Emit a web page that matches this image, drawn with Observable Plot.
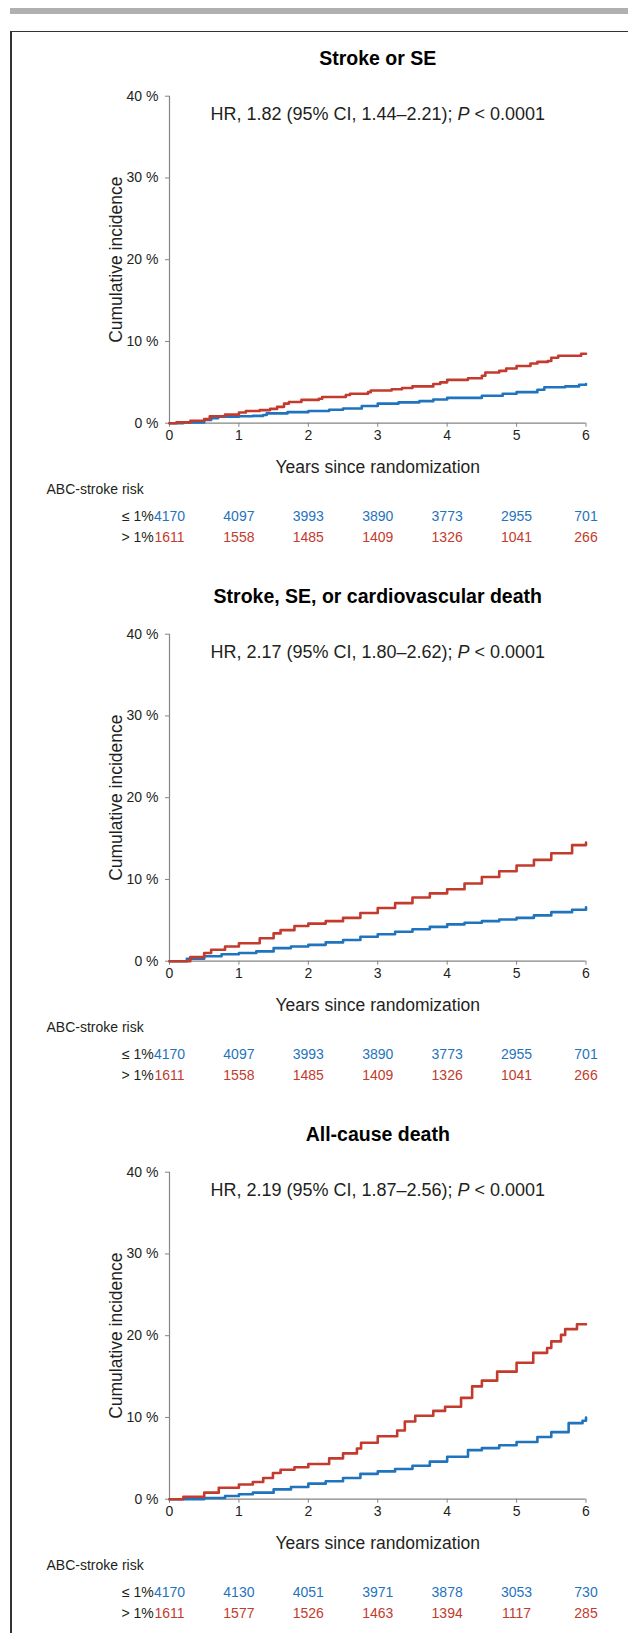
<!DOCTYPE html>
<html><head><meta charset="utf-8">
<script src="https://cdn.jsdelivr.net/npm/d3@7"></script>
<script src="https://cdn.jsdelivr.net/npm/@observablehq/plot@0.6"></script>
<style>
body{margin:0;background:#fff;}
#page{position:relative;width:628px;height:1633px;overflow:hidden;font-family:"Liberation Sans",Arial,sans-serif;}
#bar{position:absolute;left:10px;top:8px;width:618px;height:6px;background:#b0b0b0;}
#frame{position:absolute;left:10px;top:31px;width:660px;height:1700px;border-top:1.6px solid #333;border-left:2px solid #333;box-sizing:border-box;}
.panel{position:absolute;left:0;}
</style></head><body><div id="page"><div id="bar"></div><div id="frame"></div></div>
<script>
// ---- data ----
const years = [0, 1, 2, 3, 4, 5, 6];
const yTicks = [0, 10, 20, 30, 40];
const groupLabels = ["≤ 1%", "> 1%"];
const tableTitle = "ABC-stroke risk";
const xLabel = "Years since randomization";
const yLabel = "Cumulative incidence";

const titles = ["Stroke or SE", "Stroke, SE, or cardiovascular death", "All-cause death"];
const hrTexts = [
  "HR, 1.82 (95% CI, 1.44–2.21); P < 0.0001",
  "HR, 2.17 (95% CI, 1.80–2.62); P < 0.0001",
  "HR, 2.19 (95% CI, 1.87–2.56); P < 0.0001"
];

// cumulative incidence (%) : [years, %]
const strokeLow = [[0,0],[0.2,0.1],[0.5,0.4],[0.6,0.6],[0.7,0.8],[1.0,0.85],[1.2,0.9],[1.35,1.0],[1.4,1.2],[1.7,1.35],[2.0,1.5],[2.3,1.65],[2.5,1.8],[2.77,2.1],[3.0,2.4],[3.3,2.55],[3.6,2.7],[3.8,2.9],[4.0,3.1],[4.5,3.35],[4.8,3.6],[5.0,3.8],[5.3,4.1],[5.4,4.4],[5.7,4.5],[5.9,4.7],[6.0,4.8]];
const strokeHigh = [[0,0],[0.1,0.1],[0.3,0.3],[0.5,0.5],[0.58,0.85],[0.8,1.05],[1.0,1.3],[1.1,1.5],[1.3,1.6],[1.45,1.75],[1.55,2.0],[1.65,2.4],[1.72,2.6],[1.9,2.85],[2.15,3.0],[2.2,3.2],[2.54,3.45],[2.6,3.6],[2.86,3.8],[2.9,4.0],[3.2,4.15],[3.35,4.3],[3.5,4.5],[3.8,4.8],[3.9,5.0],[4.0,5.3],[4.3,5.5],[4.5,5.8],[4.55,6.2],[4.75,6.4],[4.85,6.7],[5.0,7.0],[5.2,7.3],[5.3,7.5],[5.45,7.6],[5.5,8.0],[5.6,8.25],[5.93,8.5],[6.0,8.5]];
const cvLow = [[0,0],[0.25,0.3],[0.5,0.6],[0.75,0.85],[1.0,1.0],[1.25,1.2],[1.5,1.6],[1.75,1.8],[2.0,2.0],[2.25,2.3],[2.5,2.6],[2.75,3.0],[3.0,3.3],[3.25,3.6],[3.5,3.9],[3.75,4.2],[4.0,4.5],[4.25,4.7],[4.5,4.9],[4.75,5.1],[5.0,5.3],[5.25,5.6],[5.5,6.0],[5.8,6.3],[6.0,6.6]];
const cvHigh = [[0,0],[0.3,0.5],[0.5,1.0],[0.6,1.4],[0.8,1.8],[1.0,2.2],[1.3,2.8],[1.5,3.4],[1.6,3.8],[1.8,4.3],[2.0,4.6],[2.25,4.9],[2.5,5.3],[2.75,5.9],[3.0,6.5],[3.25,7.1],[3.5,7.8],[3.75,8.3],[4.0,8.8],[4.25,9.5],[4.5,10.3],[4.75,11.0],[5.0,11.7],[5.25,12.4],[5.5,13.2],[5.8,14.2],[6.0,14.5]];
const deathLow = [[0,0],[0.5,0.15],[0.8,0.4],[1.0,0.6],[1.2,0.8],[1.5,1.2],[1.75,1.5],[2.0,1.9],[2.25,2.2],[2.5,2.6],[2.75,3.1],[3.0,3.4],[3.25,3.7],[3.5,4.1],[3.75,4.6],[4.0,5.2],[4.3,6.0],[4.5,6.25],[4.75,6.6],[5.0,7.0],[5.3,7.6],[5.5,8.2],[5.75,9.3],[5.95,9.6],[6.0,10.0]];
const deathHigh = [[0,0],[0.2,0.3],[0.5,0.8],[0.71,1.4],[1.0,1.8],[1.2,2.1],[1.35,2.6],[1.49,3.2],[1.6,3.6],[1.8,3.9],[2.0,4.3],[2.3,5.0],[2.5,5.6],[2.7,6.2],[2.76,6.9],[3.0,7.7],[3.28,8.4],[3.39,9.5],[3.54,10.2],[3.8,10.8],[3.97,11.3],[4.2,12.4],[4.36,13.8],[4.5,14.5],[4.72,15.6],[5.0,16.7],[5.24,17.9],[5.44,18.5],[5.5,19.3],[5.64,20.1],[5.7,20.8],[5.87,21.4],[6.0,21.4]];

// numbers at risk
const riskLowStroke = [4170, 4097, 3993, 3890, 3773, 2955, 701];
const riskHighStroke = [1611, 1558, 1485, 1409, 1326, 1041, 266];
const riskLowCv = [4170, 4097, 3993, 3890, 3773, 2955, 701];
const riskHighCv = [1611, 1558, 1485, 1409, 1326, 1041, 266];
const riskLowDeath = [4170, 4130, 4051, 3971, 3878, 3053, 730];
const riskHighDeath = [1611, 1577, 1526, 1463, 1394, 1117, 285];

// ---- style ----
const BLUE = "#1f74bd", RED = "#c23b2d", AXIS = "#858585", INK = "#231f20";
const FONT = "'Liberation Sans', Arial, Helvetica, sans-serif";

const panels = [
  {title: titles[0], hr: hrTexts[0], low: strokeLow, high: strokeHigh, rl: riskLowStroke, rh: riskHighStroke, top: 0},
  {title: titles[1], hr: hrTexts[1], low: cvLow, high: cvHigh, rl: riskLowCv, rh: riskHighCv, top: 537.6},
  {title: titles[2], hr: hrTexts[2], low: deathLow, high: deathHigh, rl: riskLowDeath, rh: riskHighDeath, top: 1076}
];

const page = document.getElementById("page");
const W = 628, H = 560, BOTTOM = 422.7;

for (const p of panels) {
  const txt = {lineAnchor: "middle", fill: INK};
  const chart = Plot.plot({
    width: W, height: H,
    marginLeft: 169, marginRight: 42.5, marginTop: 95.7, marginBottom: H - BOTTOM,
    x: {domain: [0, 6]},
    y: {domain: [0, 40]},
    style: {fontFamily: FONT, fontSize: "14px", color: INK, background: "transparent", overflow: "visible"},
    marks: [
      Plot.axisY({ticks: yTicks, tickFormat: d => d + " %", tickSize: 4, tickPadding: 7, stroke: AXIS, fill: INK, fontSize: 14, label: null}),
      Plot.axisX({ticks: years, tickFormat: d => String(d), tickSize: 4, tickPadding: 3, stroke: AXIS, fill: INK, fontSize: 14, label: null}),
      Plot.ruleX([0], {stroke: AXIS, strokeWidth: 1.2}),
      Plot.ruleY([0], {stroke: AXIS, strokeWidth: 1.2}),
      Plot.line(p.low, {x: d => d[0], y: d => d[1], stroke: BLUE, strokeWidth: 2.6, curve: "step-after"}),
      Plot.line(p.high, {x: d => d[0], y: d => d[1], stroke: RED, strokeWidth: 2.6, curve: "step-after"}),
      Plot.text([p.title], {...txt, text: d => d, frameAnchor: "top", dy: -37.4, fontSize: 19.5, fontWeight: "bold", fill: "#000"}),
      Plot.text([p.hr], {...txt, text: d => d, frameAnchor: "top", dy: 17.6, fontSize: 18}),
      Plot.text([yLabel], {...txt, text: d => d, frameAnchor: "left", textAnchor: "middle", rotate: -90, dx: -53.3, fontSize: 17.5}),
      Plot.text([xLabel], {...txt, text: d => d, frameAnchor: "bottom", dy: 44, fontSize: 17.5}),
      Plot.text([tableTitle], {...txt, text: d => d, frameAnchor: "bottom-left", textAnchor: "start", dx: -123, dy: 66.3, fontSize: 14}),
      Plot.text([groupLabels[0]], {...txt, text: d => d, frameAnchor: "bottom-left", textAnchor: "end", dx: -15.8, dy: 93, fontSize: 14}),
      Plot.text([groupLabels[1]], {...txt, text: d => d, frameAnchor: "bottom-left", textAnchor: "end", dx: -15.8, dy: 114.6, fontSize: 14}),
      Plot.text(years, {...txt, x: d => d, text: (d, i) => String(p.rl[i]), frameAnchor: "bottom", dy: 93, fontSize: 14, fill: BLUE}),
      Plot.text(years, {...txt, x: d => d, text: (d, i) => String(p.rh[i]), frameAnchor: "bottom", dy: 114.6, fontSize: 14, fill: RED})
    ]
  });
  chart.classList.add("panel");
  chart.style.top = p.top + "px";
  page.appendChild(chart);
  // italic P in the HR line
  for (const el of chart.querySelectorAll("text")) {
    const s = el.textContent;
    if (!s.startsWith("HR,")) continue;
    const k = s.indexOf("; P");
    if (k < 0) continue;
    const t = d3.select(el);
    t.text("");
    t.append("tspan").text(s.slice(0, k + 2));
    t.append("tspan").attr("font-style", "italic").text("P");
    t.append("tspan").text(s.slice(k + 3));
  }
}
</script></body></html>
